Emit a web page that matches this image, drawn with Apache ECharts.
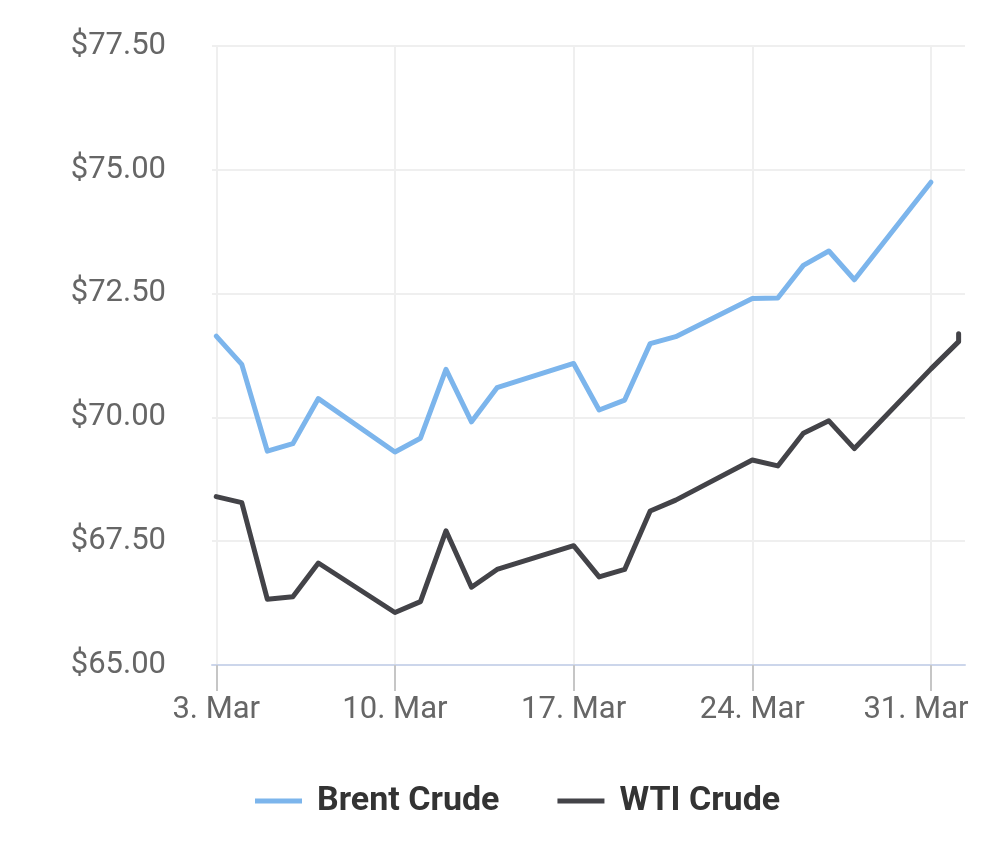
<!DOCTYPE html>
<html>
<head>
<meta charset="utf-8">
<script src="https://cdn.jsdelivr.net/npm/echarts@6/dist/echarts.min.js"></script>
<style>
html,body{margin:0;padding:0;background:#fff;}
#chart{width:1000px;height:844px;}
</style>
</head>
<body>
<div id="chart"></div>
<script>
// Dates (trading days)
const brentDates = ['2025-03-03','2025-03-04','2025-03-05','2025-03-06','2025-03-07',
  '2025-03-10','2025-03-11','2025-03-12','2025-03-13','2025-03-14',
  '2025-03-17','2025-03-18','2025-03-19','2025-03-20','2025-03-21',
  '2025-03-24','2025-03-25','2025-03-26','2025-03-27','2025-03-28',
  '2025-03-31'];
const brentValues = [71.64,71.07,69.32,69.47,70.38,
  69.30,69.58,70.97,69.91,70.60,
  71.09,70.15,70.35,71.49,71.63,
  72.40,72.41,73.07,73.36,72.78,
  74.75];
const wtiDates = ['2025-03-03','2025-03-04','2025-03-05','2025-03-06','2025-03-07',
  '2025-03-10','2025-03-11','2025-03-12','2025-03-13','2025-03-14',
  '2025-03-17','2025-03-18','2025-03-19','2025-03-20','2025-03-21',
  '2025-03-24','2025-03-25','2025-03-26','2025-03-27','2025-03-28',
  '2025-03-31','2025-04-01T02:00','2025-04-01T02:00'];
const wtiValues = [68.40,68.28,66.33,66.38,67.06,
  66.06,66.28,67.71,66.57,66.93,
  67.41,66.78,66.93,68.11,68.33,
  69.14,69.02,69.68,69.93,69.37,
  70.98,71.53,71.69];
const xTicks = ['2025-03-03','2025-03-10','2025-03-17','2025-03-24','2025-03-31'];
const monthNames = ['Jan','Feb','Mar','Apr','May','Jun','Jul','Aug','Sep','Oct','Nov','Dec'];
const seriesNames = ['Brent Crude','WTI Crude'];
const xStart = '2025-03-02T20:00', xEnd = '2025-04-01T08:00';
const yMin = 65, yMax = 77.5, yStep = 2.5;

function ts(s) { return Date.parse((s.length === 10 ? s + 'T00:00' : s) + ':00Z'); }
const pair = (d, v) => d.map((x, i) => [ts(x), v[i]]);
const tickVals = xTicks.map(ts);
const lastTick = tickVals[tickVals.length - 1];

const chart = echarts.init(document.getElementById('chart'));
const lineStyleBase = {width: 5, join: 'round', cap: 'round'};
const xLabelFont = {fontFamily: 'Roboto', fontSize: 31, color: '#666666'};
chart.setOption({
  animation: false,
  grid: {left: 212, right: 35, top: 46, bottom: 179},
  legend: {
    data: seriesNames,
    left: 250, top: 779,
    icon: 'rect', itemWidth: 47, itemHeight: 5, itemGap: 58,
    textStyle: {fontFamily: 'Roboto', fontWeight: 'bold', fontSize: 34, color: '#333333', padding: [0, 0, 0, 10]}
  },
  xAxis: {
    type: 'value',
    min: ts(xStart),
    max: ts(xEnd),
    axisLine: {lineStyle: {color: '#ccd6eb', width: 2}},
    axisTick: {show: true, length: 26, lineStyle: {color: '#c6c6c6', width: 2}, customValues: tickVals},
    axisLabel: Object.assign({
      customValues: tickVals,
      margin: 30,
      formatter: function (v) {
        const d = new Date(v);
        const s = d.getUTCDate() + '. ' + monthNames[d.getUTCMonth()];
        return v === lastTick ? '{last|' + s + '}' : s;
      },
      rich: {last: Object.assign({padding: [0, 30, 0, 0]}, xLabelFont)}
    }, xLabelFont),
    splitLine: {show: true, lineStyle: {color: '#efefef', width: 2}}
  },
  yAxis: {
    type: 'value', min: yMin, max: yMax, interval: yStep,
    axisLine: {show: false}, axisTick: {show: false},
    axisLabel: {margin: 46, fontFamily: 'Roboto', fontSize: 31, color: '#666666',
      formatter: v => '$' + v.toFixed(2)},
    splitLine: {lineStyle: {color: '#efefef', width: 2}}
  },
  series: [
    {name: seriesNames[0], type: 'line', data: pair(brentDates, brentValues), showSymbol: false, symbol: 'none',
     color: '#7cb5ec', lineStyle: Object.assign({color: '#7cb5ec'}, lineStyleBase)},
    {name: seriesNames[1], type: 'line', data: pair(wtiDates, wtiValues), showSymbol: false, symbol: 'none',
     color: '#434348', lineStyle: Object.assign({color: '#434348'}, lineStyleBase)}
  ]
});
</script>
</body>
</html>
